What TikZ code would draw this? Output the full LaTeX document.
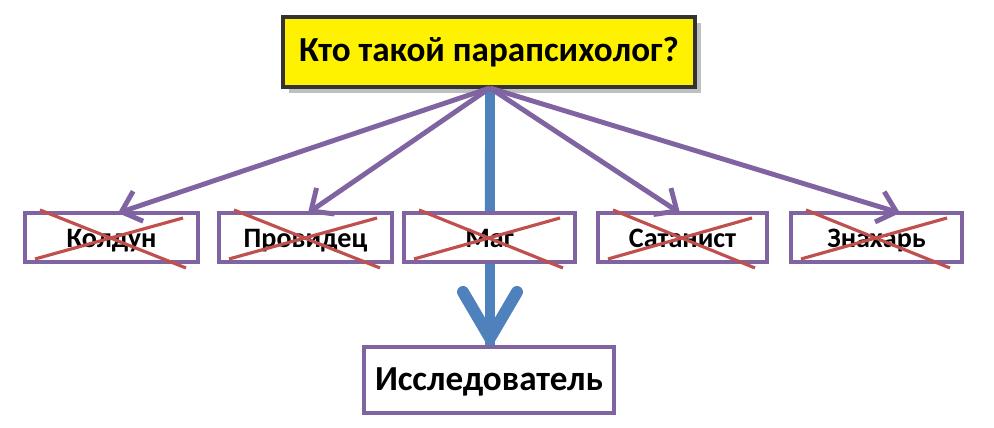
\documentclass[tikz,border=0pt]{standalone}
\usepackage{fontspec}
\setmainfont{Carlito}
\usetikzlibrary{arrows.meta}
\begin{document}
\begin{tikzpicture}[x=0.1mm,y=-0.1mm]
\useasboundingbox (0,0) rectangle (994,428);
\definecolor{pur}{HTML}{8064A2}\definecolor{blu}{HTML}{4F81BD}\definecolor{rd}{HTML}{C0504D}
\tikzset{parr/.style={draw=pur,line width=1.4pt,-{Straight Barb[length=5pt,width=9pt,line width=1.4pt]}},
 box/.style={draw=pur,line width=1.2pt,fill=white,inner sep=0pt,text height=1.5ex,text depth=0.3ex,font=\fontsize{8}{9}\selectfont\bfseries},
 cross/.style={draw=rd,line width=0.9pt}}
\fill[gray!50] (289,23) rectangle (701,93);
\node[draw=black!80,line width=1pt,fill=yellow,minimum width=412*0.1mm,minimum height=70*0.1mm,inner sep=0pt,text height=1.5ex,text depth=0.4ex,font=\fontsize{10}{12}\selectfont\bfseries] (t) at (489,52) {Кто такой парапсихолог?};
\coordinate (o) at (490,88);
\draw[blu,line width=2.7pt] (o) -- (490,345);
\node[box,minimum width=250*0.1mm,minimum height=66*0.1mm,font=\fontsize{10}{12}\selectfont\bfseries] (r) at (489,380) {Исследователь};
\draw[blu,line width=3.4pt,line cap=round,line join=round] (463,292) -- (490,338) -- (517,292);
\foreach \n/\a/\b/\txt in {k/25/198/Колдун,p/219/392/Провидец,m/404/575/Маг,s/598/767/Сатанист,z/791/962/Знахарь}{
  \node[box,minimum width={(\b-\a)*0.1mm},minimum height=49*0.1mm] (\n) at ({(\a+\b)/2},237.5) {\txt};
  \draw[cross] (\a+15,210) -- (\b-12,268);
  \draw[cross] (\a+10,259) -- (\b-15,218);
}
\draw[blu,line width=2.7pt] (o) -- (m.north);
\draw[parr] (o) -- (118,213);
\draw[parr] (o) -- (308,213);
\draw[parr] (o) -- (680,213);
\draw[parr] (o) -- (900,213);
\end{tikzpicture}
\end{document}
